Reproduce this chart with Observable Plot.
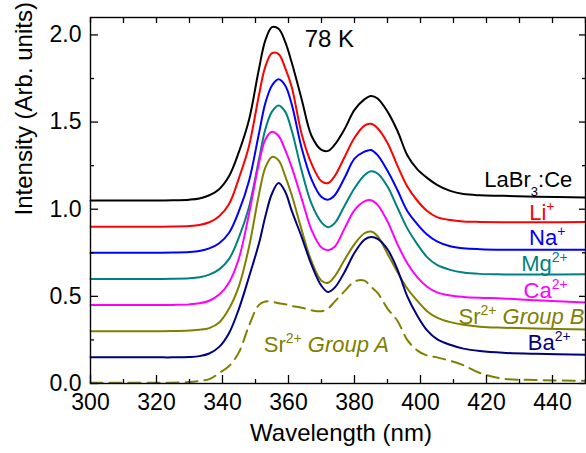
<!DOCTYPE html>
<html><head><meta charset="utf-8">
<script src="https://cdn.jsdelivr.net/npm/d3@7"></script>
<script src="https://cdn.jsdelivr.net/npm/@observablehq/plot@0.6"></script>
<style>html,body{margin:0;padding:0;background:#fff;}</style>
</head><body><div id="chart"></div>
<script>
// ---- data ----
const wavelengths = [300,310,320,325,330,333,336,339,342,345,348,351,353,355,357,359,361,364,367,370,372,374,377,380,383,385,387,390,393,396,399,402,405,409,413,418,425,435,450];
const laBr3Ce = [1.05,1.05,1.05,1.051,1.055,1.062,1.08,1.115,1.19,1.33,1.51,1.80,1.97,2.045,2.035,1.96,1.84,1.63,1.42,1.34,1.335,1.37,1.46,1.57,1.63,1.65,1.635,1.56,1.45,1.31,1.23,1.18,1.14,1.105,1.087,1.08,1.077,1.072,1.067];
const li = [0.9,0.9,0.9,0.901,0.904,0.91,0.925,0.96,1.03,1.18,1.36,1.65,1.82,1.895,1.89,1.81,1.70,1.43,1.26,1.16,1.15,1.19,1.30,1.41,1.48,1.49,1.465,1.38,1.25,1.13,1.05,0.99,0.955,0.938,0.93,0.927,0.925,0.925,0.927];
const na = [0.75,0.75,0.75,0.751,0.754,0.76,0.775,0.805,0.865,0.99,1.16,1.43,1.61,1.71,1.745,1.71,1.60,1.35,1.17,1.07,1.055,1.08,1.18,1.29,1.33,1.34,1.31,1.22,1.11,0.99,0.915,0.855,0.815,0.787,0.776,0.771,0.768,0.767,0.767];
const mg = [0.6,0.6,0.6,0.601,0.604,0.61,0.625,0.655,0.715,0.84,1.01,1.28,1.46,1.56,1.595,1.56,1.45,1.22,1.03,0.925,0.897,0.92,1.02,1.12,1.195,1.218,1.205,1.13,1.01,0.89,0.80,0.725,0.68,0.652,0.637,0.629,0.626,0.625,0.627];
const ca = [0.45,0.45,0.45,0.451,0.454,0.46,0.475,0.51,0.58,0.72,0.97,1.26,1.40,1.444,1.42,1.34,1.24,1.06,0.88,0.78,0.765,0.785,0.89,0.995,1.045,1.052,1.025,0.93,0.80,0.69,0.61,0.555,0.523,0.505,0.497,0.492,0.488,0.478,0.465];
const srGroupB = [0.3,0.3,0.3,0.301,0.304,0.308,0.318,0.35,0.43,0.56,0.78,1.08,1.24,1.30,1.28,1.19,1.08,0.88,0.70,0.59,0.578,0.615,0.71,0.80,0.862,0.872,0.845,0.745,0.64,0.545,0.475,0.415,0.378,0.352,0.337,0.326,0.32,0.315,0.31];
const ba = [0.15,0.15,0.15,0.15,0.152,0.157,0.172,0.21,0.29,0.43,0.61,0.80,0.96,1.09,1.15,1.10,0.99,0.84,0.68,0.56,0.525,0.55,0.64,0.75,0.825,0.84,0.83,0.77,0.655,0.50,0.39,0.305,0.255,0.222,0.2,0.186,0.176,0.17,0.165];
const srGroupA = [0.005,0.005,0.005,0.005,0.008,0.015,0.025,0.06,0.10,0.18,0.33,0.45,0.47,0.47,0.46,0.455,0.445,0.435,0.42,0.415,0.43,0.47,0.53,0.585,0.59,0.555,0.52,0.43,0.36,0.25,0.19,0.16,0.15,0.13,0.105,0.06,0.028,0.02,0.015];

const seriesNames  = ["LaBr3:Ce","Li+","Na+","Mg2+","Ca2+","Sr2+ Group B","Ba2+","Sr2+ Group A"];
const seriesValues = [laBr3Ce, li, na, mg, ca, srGroupB, ba, srGroupA];
const seriesColors = ["#000000","#ff0000","#0000ff","#008080","#ff00ff","#808000","#000080","#808000"];
const seriesDashed = [false,false,false,false,false,false,false,true];

// labels placed beside curves (rich-text markup: ^{sup}, _{sub}, *italic*)
const labelTexts   = ["LaBr_{3}:Ce","Li^{+}","Na^{+}","Mg^{2+}","Ca^{2+}","Sr^{2+} *Group B*","Ba^{2+}","Sr^{2+} *Group A*"];
const labelX       = [446, 440.6, 443.9, 444.6, 444.6, 449.7, 445.5, 352.5];
const labelY       = [1.17, 0.978, 0.835, 0.686, 0.529, 0.38, 0.232, 0.223];
const labelAnchor  = ["end","end","end","end","end","end","end","start"];

const xMajorTicks = [300,320,340,360,380,400,420,440];
const xMinorTicks = [310,330,350,370,390,410,430,450];
const yMajorTicks = [0,0.5,1.0,1.5,2.0];
const yMinorTicks = [0.25,0.75,1.25,1.75];
const tempLabel = "78 K";

// ---- build ----
const W = 586, H = 453, mL = 90, mR = 1, mT = 17, mB = 70;
const pw = W - mL - mR, ph = H - mT - mB;

const rows = [];
seriesNames.forEach((name, s) => {
  seriesValues[s].forEach((v, i) => rows.push({name, wl: wavelengths[i], v}));
});
const labels = labelTexts.map((t, i) => ({t, x: labelX[i], y: labelY[i], color: seriesColors[i], anchor: labelAnchor[i]}));

const lineMarks = seriesNames.map((name, s) =>
  Plot.line(rows.filter(r => r.name === name), {
    x: "wl", y: "v", stroke: seriesColors[s], strokeWidth: 2,
    strokeDasharray: seriesDashed[s] ? "12,7" : null, curve: "catmull-rom"
  })
);

const tickStyle = {stroke: "#000", strokeWidth: 1.3};
const plot = Plot.plot({
  width: W, height: H,
  marginLeft: mL, marginRight: mR, marginTop: mT, marginBottom: mB,
  style: {fontFamily: "'Liberation Sans', Arial, Helvetica, sans-serif", fontSize: "23px", color: "#000", background: "#fff"},
  x: {domain: [300, 450]},
  y: {domain: [0, 2.1]},
  marks: [
    ...lineMarks,
    Plot.frame({stroke: "#000", strokeWidth: 1.4}),
    Plot.tickX(xMajorTicks, {x: d => d, insetTop: ph - 8, ...tickStyle}),
    Plot.tickX(xMinorTicks, {x: d => d, insetTop: ph - 4, ...tickStyle}),
    Plot.tickX(xMajorTicks.concat(xMinorTicks), {x: d => d, insetBottom: ph - 6, ...tickStyle}),
    Plot.tickY(yMajorTicks, {y: d => d, insetRight: pw - 8, ...tickStyle}),
    Plot.tickY(yMinorTicks, {y: d => d, insetRight: pw - 4, ...tickStyle}),
    Plot.tickY(yMajorTicks, {y: d => d, insetLeft: pw - 6, ...tickStyle}),
    Plot.tickY(yMinorTicks, {y: d => d, insetLeft: pw - 3, ...tickStyle}),
    Plot.axisX(xMajorTicks, {anchor: "bottom", tickSize: 0, tickPadding: 10, fontSize: 23, label: null}),
    Plot.axisY(yMajorTicks, {anchor: "left", tickSize: 0, tickPadding: 9, fontSize: 23, label: null, tickFormat: d => d.toFixed(1)}),
    Plot.text(["Wavelength (nm)"], {text: d => d, frameAnchor: "bottom", dx: 3, dy: 57, fontSize: 24, fill: "#000"}),
    Plot.text(["Intensity (Arb. units)"], {text: d => d, frameAnchor: "left", rotate: -90, dx: -66, dy: 15, fontSize: 24, fill: "#000"}),
    Plot.text([{t: tempLabel, x: 372.4, y: 1.974}], {x: "x", y: "y", text: "t", fontSize: 24, fill: "#000"}),
    ...labels.map(L => Plot.text([L], {x: "x", y: "y", text: "t", fill: L.color, textAnchor: L.anchor, fontSize: 22}))
  ]
});
document.getElementById("chart").appendChild(plot);

// rich text: superscripts, subscripts, italics
const svgNS = "http://www.w3.org/2000/svg";
function renderRich(el, src, color) {
  el.textContent = "";
  el.setAttribute("fill", color);
  let cur = 0;
  const add = (txt, o = {}) => {
    const ts = document.createElementNS(svgNS, "tspan");
    const target = o.shift || 0;
    if (target !== cur) { ts.setAttribute("dy", target - cur); cur = target; }
    if (o.size) ts.setAttribute("font-size", o.size);
    if (o.italic) ts.setAttribute("font-style", "italic");
    ts.textContent = txt;
    el.appendChild(ts);
  };
  const re = /\^\{([^}]*)\}|_\{([^}]*)\}|\*([^*]*)\*|([^^_*]+)/g;
  let m;
  while ((m = re.exec(src))) {
    if (m[1] != null) add(m[1], {size: 14, shift: -9});
    else if (m[2] != null) add(m[2], {size: 13, shift: 9});
    else if (m[3] != null) add(m[3], {italic: true});
    else add(m[4]);
  }
}
plot.querySelectorAll("text").forEach(el => {
  const L = labels.find(l => l.t === el.textContent);
  if (L) renderRich(el, L.t, L.color);
});
</script>
</body></html>
